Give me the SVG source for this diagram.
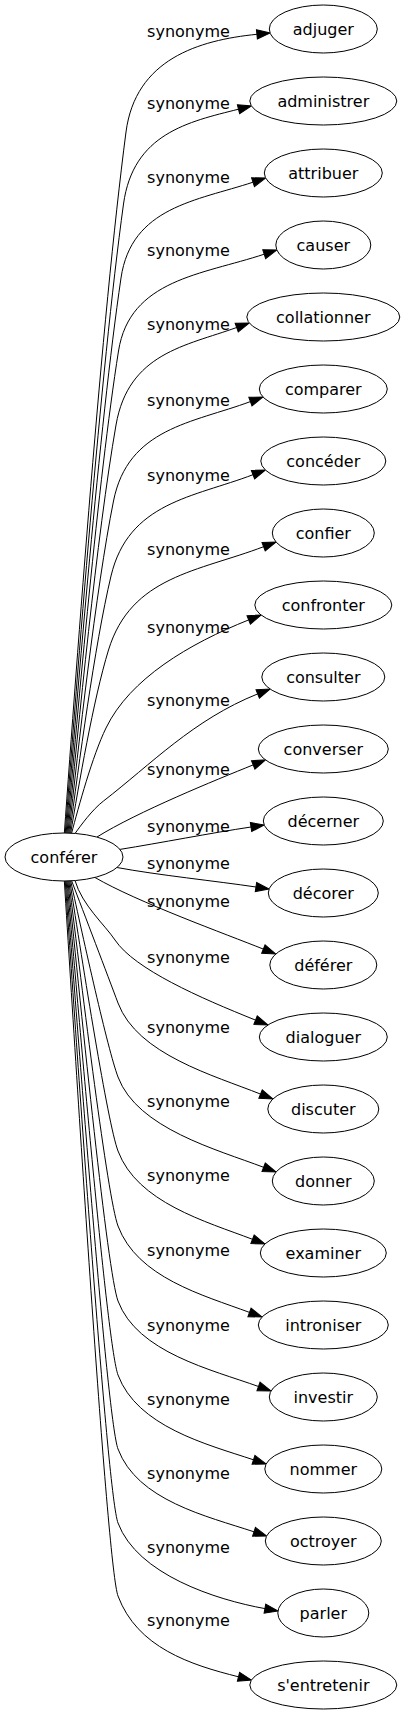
<svg xmlns="http://www.w3.org/2000/svg" width="405" height="1715" viewBox="0 0 405 1715">
<style>
.n ellipse{fill:#fff;stroke:#000;stroke-width:1}
text{font-family:"DejaVu Sans","Liberation Sans",sans-serif;font-size:16px;fill:#000}
.n text{text-anchor:middle}
.e path{fill:none;stroke:#000;stroke-width:1;marker-end:url(#a)}
.l text{text-anchor:middle}
</style>
<defs>
<marker id="a" markerWidth="14" markerHeight="10" refX="0" refY="5" orient="auto" markerUnits="userSpaceOnUse" viewBox="0 0 14 10" overflow="visible">
<path d="M0,0.4 L13.3,5 L0,9.6 z" fill="#000" stroke="#000" stroke-width="1"/>
</marker>
</defs>
<rect width="405" height="1715" fill="#fff"/>
<g id="edges" class="e">
<path d="M64.3,833.5 C77.3,654.3 101.3,321.4 126,132 C135.5,59.3 198.3,40.2 256.9,34.3"/>
<path d="M65.2,833.5 C77.5,672.7 100.2,374 123.5,204 C133.2,133.5 188.3,121.8 238.5,109.2"/>
<path d="M66.1,833.5 C77.6,691.6 99,428 121,278 C131.4,206.9 196.6,200.8 253,182.2"/>
<path d="M67,833.5 C77.8,710.2 97.9,481.3 118.5,351 C129.8,279.3 201.9,274.8 264.2,254.2"/>
<path d="M67.9,833.5 C78,729.1 96.8,535.3 116,425 C128.5,353 185.6,345.9 236.7,327.5"/>
<path d="M68.8,833.5 C78.2,748.6 95.6,590.8 113.5,501 C128,427.9 192.6,423 250.4,401.6"/>
<path d="M69.7,833.5 C78.4,767.7 94.5,645.5 111,576 C128.6,502.1 193.3,497.4 253,474.7"/>
<path d="M70.6,833.5 C78.5,786.6 93.3,699.5 108.5,650 C131.2,575.9 198.4,571.5 263.6,546.7"/>
<path d="M71.5,833.5 C78.7,806.5 92.2,756.5 106,728 C129.9,678.6 189.1,643.7 248.7,619.9"/>
<path d="M75,833.5 C81,825.2 92.1,809.8 103.5,801 C151,764.3 193.3,719.7 257.7,693.9"/>
<path d="M97,837 C137,812 216.1,779.8 253.2,764.9"/>
<path d="M120,849.4 C160,843 211.4,832.9 251,827"/>
<path d="M117,867.5 C157,875 216.4,881.1 255.95,887"/>
<path d="M95,877.5 C137,902 226.2,934.2 263.35,949.1"/>
<path d="M75,880.5 C82,905 105,925 115,940 C134.4,969.1 199.85,997.8 255.55,1020.1"/>
<path d="M71.5,880.5 C84.1,913.5 107.5,974.9 118,1003 C137.3,1054.5 214.1,1075.5 260.55,1094.1"/>
<path d="M70.6,880.5 C83.5,939.4 107.5,1048.9 118,1077 C137.3,1128.5 216.9,1149.5 263.6,1167.3"/>
<path d="M69.7,880.5 C82.9,965.3 107.5,1122.9 118,1151 C137.3,1202.5 205.8,1221.5 252.5,1239.3"/>
<path d="M68.8,880.5 C82.3,991.6 107.5,1197.9 118,1226 C137.3,1277.5 202.6,1295.05 249.5,1312.4"/>
<path d="M67.9,880.5 C81.8,1017.8 107.5,1272.9 118,1301 C137.3,1352.5 211.5,1369.6 258.5,1386.5"/>
<path d="M67,880.5 C81.2,1043.7 107.5,1346.9 118,1375 C137.3,1426.5 206,1444.1 253.5,1459.8"/>
<path d="M66.1,880.5 C80.6,1069.6 107.5,1420.9 118,1449 C137.3,1500.5 206.5,1516.1 254,1531.8"/>
<path d="M65.2,880.5 C80,1095.5 107.5,1494.9 118,1523 C137.3,1574.5 215.7,1599.7 264.9,1608.6"/>
<path d="M64.3,880.5 C79.4,1121.1 107.5,1567.9 118,1596 C137.3,1647.5 190,1664.7 238.5,1676.8"/>
</g>
<g id="labels" class="l">
<text x="188.5" y="37">synonyme</text>
<text x="188.5" y="109">synonyme</text>
<text x="188.5" y="183">synonyme</text>
<text x="188.5" y="256">synonyme</text>
<text x="188.5" y="330">synonyme</text>
<text x="188.5" y="406">synonyme</text>
<text x="188.5" y="481">synonyme</text>
<text x="188.5" y="555">synonyme</text>
<text x="188.5" y="633">synonyme</text>
<text x="188.5" y="706">synonyme</text>
<text x="188.5" y="775">synonyme</text>
<text x="188.5" y="832">synonyme</text>
<text x="188.5" y="869">synonyme</text>
<text x="188.5" y="907">synonyme</text>
<text x="188.5" y="963">synonyme</text>
<text x="188.5" y="1033">synonyme</text>
<text x="188.5" y="1107">synonyme</text>
<text x="188.5" y="1181">synonyme</text>
<text x="188.5" y="1256">synonyme</text>
<text x="188.5" y="1331">synonyme</text>
<text x="188.5" y="1405">synonyme</text>
<text x="188.5" y="1479">synonyme</text>
<text x="188.5" y="1553">synonyme</text>
<text x="188.5" y="1626">synonyme</text>
</g>
<g id="conferer" class="n"><ellipse cx="64" cy="857" rx="59" ry="24"/><text x="64" y="863">conférer</text></g>
<g id="adjuger" class="n"><ellipse cx="323.3" cy="29" rx="54" ry="24"/><text x="323.3" y="35">adjuger</text></g>
<g id="administrer" class="n"><ellipse cx="323.3" cy="101" rx="73.5" ry="24"/><text x="323.3" y="107">administrer</text></g>
<g id="attribuer" class="n"><ellipse cx="323.3" cy="173" rx="59" ry="24"/><text x="323.3" y="179">attribuer</text></g>
<g id="causer" class="n"><ellipse cx="323.3" cy="245" rx="47.5" ry="24"/><text x="323.3" y="251">causer</text></g>
<g id="collationner" class="n"><ellipse cx="323.3" cy="317" rx="76.5" ry="24"/><text x="323.3" y="323">collationner</text></g>
<g id="comparer" class="n"><ellipse cx="323.3" cy="389" rx="64" ry="24"/><text x="323.3" y="395">comparer</text></g>
<g id="conceder" class="n"><ellipse cx="323.3" cy="461" rx="62.5" ry="24"/><text x="323.3" y="467">concéder</text></g>
<g id="confier" class="n"><ellipse cx="323.3" cy="533" rx="51" ry="24"/><text x="323.3" y="539">confier</text></g>
<g id="confronter" class="n"><ellipse cx="323.3" cy="605" rx="68.5" ry="24"/><text x="323.3" y="611">confronter</text></g>
<g id="consulter" class="n"><ellipse cx="323.3" cy="677" rx="61.5" ry="24"/><text x="323.3" y="683">consulter</text></g>
<g id="converser" class="n"><ellipse cx="323.3" cy="749" rx="65" ry="24"/><text x="323.3" y="755">converser</text></g>
<g id="decerner" class="n"><ellipse cx="323.3" cy="821" rx="60" ry="24"/><text x="323.3" y="827">décerner</text></g>
<g id="decorer" class="n"><ellipse cx="323.3" cy="893" rx="55" ry="24"/><text x="323.3" y="899">décorer</text></g>
<g id="deferer" class="n"><ellipse cx="323.3" cy="965" rx="53.5" ry="24"/><text x="323.3" y="971">déférer</text></g>
<g id="dialoguer" class="n"><ellipse cx="323.3" cy="1037" rx="64" ry="24"/><text x="323.3" y="1043">dialoguer</text></g>
<g id="discuter" class="n"><ellipse cx="323.3" cy="1109" rx="55.5" ry="24"/><text x="323.3" y="1115">discuter</text></g>
<g id="donner" class="n"><ellipse cx="323.3" cy="1181" rx="51" ry="24"/><text x="323.3" y="1187">donner</text></g>
<g id="examiner" class="n"><ellipse cx="323.3" cy="1253" rx="63" ry="24"/><text x="323.3" y="1259">examiner</text></g>
<g id="introniser" class="n"><ellipse cx="323.3" cy="1325" rx="65" ry="24"/><text x="323.3" y="1331">introniser</text></g>
<g id="investir" class="n"><ellipse cx="323.3" cy="1397" rx="54" ry="24"/><text x="323.3" y="1403">investir</text></g>
<g id="nommer" class="n"><ellipse cx="323.3" cy="1469" rx="58.5" ry="24"/><text x="323.3" y="1475">nommer</text></g>
<g id="octroyer" class="n"><ellipse cx="323.3" cy="1541" rx="58" ry="24"/><text x="323.3" y="1547">octroyer</text></g>
<g id="parler" class="n"><ellipse cx="323.3" cy="1613" rx="45.5" ry="24"/><text x="323.3" y="1619">parler</text></g>
<g id="sentretenir" class="n"><ellipse cx="323.3" cy="1685" rx="73.5" ry="24"/><text x="323.3" y="1691">s'entretenir</text></g>
</svg>
